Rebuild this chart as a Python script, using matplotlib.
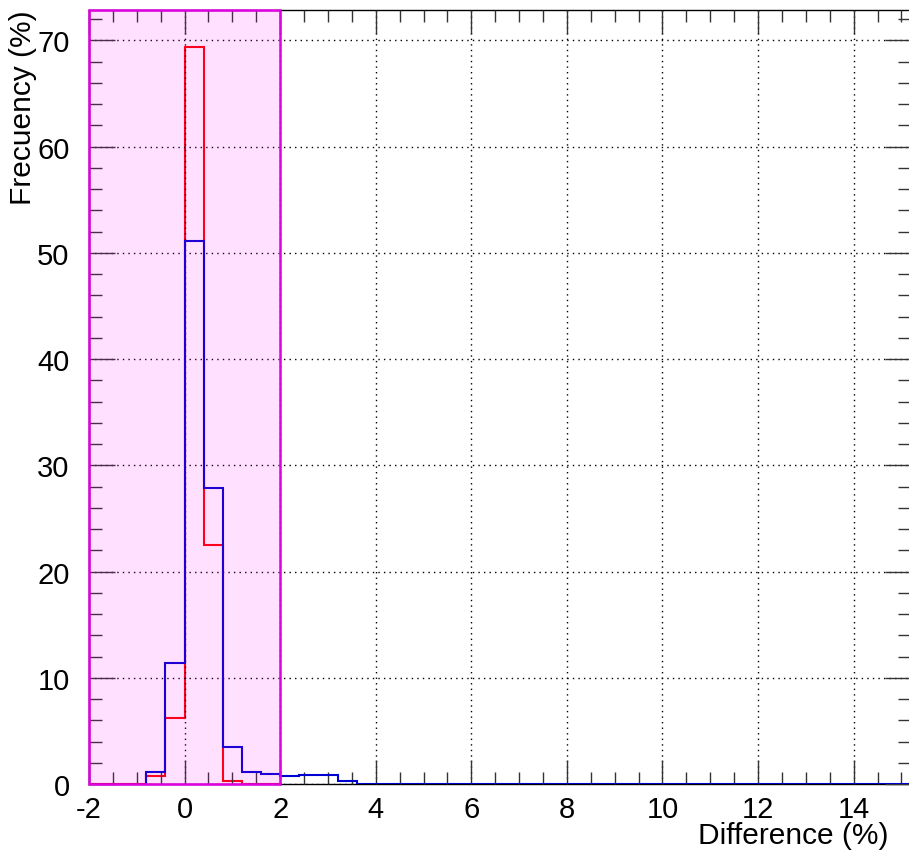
import numpy as np
import matplotlib
matplotlib.use("Agg")
import matplotlib.pyplot as plt
from matplotlib.patches import Rectangle
from matplotlib.ticker import MultipleLocator

plt.rcParams['font.family'] = ['Liberation Sans', 'DejaVu Sans']

# Histogram bin edges (width 0.4 %)
red_edges = [-2.0, -1.6, -1.2, -0.8, -0.4, 0.0, 0.4, 0.8, 1.2, 1.6, 2.0]
red_freq = [0.0, 0.0, 0.0, 0.8, 6.2, 69.4, 22.5, 0.3, 0.0, 0.0]

blue_edges = [-0.8, -0.4, 0.0, 0.4, 0.8, 1.2, 1.6, 2.0, 2.4, 2.8, 3.2, 3.6, 15.2]
blue_freq = [1.1, 11.4, 51.1, 27.9, 3.5, 1.1, 0.95, 0.72, 0.85, 0.85, 0.3, 0.0]

x_range = (-2.0, 15.2)
y_range = (0.0, 72.87)
band = (-2.0, 2.0)   # highlighted tolerance band

W, H = 909, 853
fig = plt.figure(figsize=(W / 100, H / 100), dpi=100)
ax = fig.add_axes([89 / W, 1 - 785 / H, (911 - 89) / W, (785 - 11) / H])
ax.set_xlim(*x_range)
ax.set_ylim(*y_range)


def step_outline(edges, vals):
    xs, ys = [edges[0]], [0.0]
    for i, v in enumerate(vals):
        xs += [edges[i], edges[i + 1]]
        ys += [v, v]
    xs.append(edges[-1])
    ys.append(0.0)
    return xs, ys


rx, ry = step_outline(red_edges, red_freq)
bx, by = step_outline(blue_edges, blue_freq)
ax.plot(rx, ry, color='#ff0000', lw=1.5, zorder=2, solid_joinstyle='miter')
ax.plot(bx, by, color='#0000d0', lw=1.5, zorder=2.7, solid_joinstyle='miter')

# translucent band
ax.add_patch(Rectangle((band[0], y_range[0]), band[1] - band[0], y_range[1] - y_range[0],
                       facecolor=(1.0, 0.0, 1.0, 0.12), edgecolor='none', zorder=3))
ax.add_patch(Rectangle((band[0], y_range[0]), band[1] - band[0], y_range[1] - y_range[0],
                       facecolor='none', edgecolor='#e000e0', lw=1.8, zorder=4,
                       clip_on=False))

ax.xaxis.set_major_locator(MultipleLocator(2))
ax.xaxis.set_minor_locator(MultipleLocator(0.5))
ax.yaxis.set_major_locator(MultipleLocator(10))
ax.yaxis.set_minor_locator(MultipleLocator(2))

ax.grid(True, which='major', color='black', linestyle=(0, (1, 3)), lw=1.0)
ax.set_axisbelow(False)

ax.tick_params(which='both', direction='in', top=True, right=True,
               color='#333333', width=1.0, labelsize=21)
ax.tick_params(axis='x', which='major', length=17, pad=8)
ax.tick_params(axis='x', which='minor', length=8.5)
ax.tick_params(axis='y', which='major', length=18.5, pad=14)
ax.tick_params(axis='y', which='minor', length=9.3)
for s in ax.spines.values():
    s.set_linewidth(1.0)
    s.set_color('black')

ax.set_xticks([-2, 0, 2, 4, 6, 8, 10, 12, 14])
ax.set_xticklabels(['-2', '0', '2', '4', '6', '8', '10', '12', '14'])

fig.text(888 / W, 1 - 836 / H, 'Difference (%)', ha='right', va='center', fontsize=21.5)
fig.text(23 / W, 1 - 10 / H, 'Frecuency (%)', ha='center', va='top', rotation=90, fontsize=21.5)

fig.savefig('out.png', dpi=100)
